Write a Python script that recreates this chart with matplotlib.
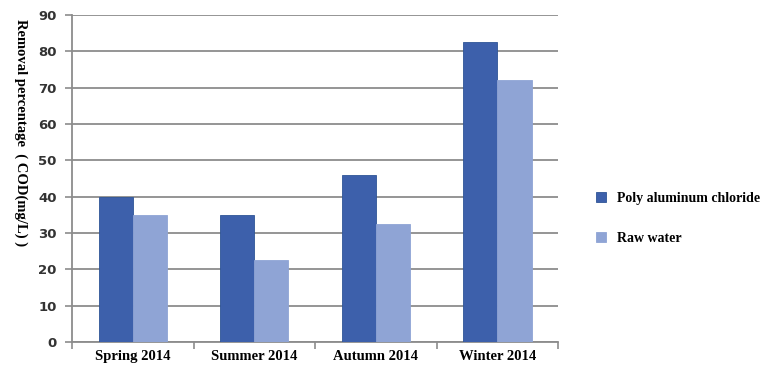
import matplotlib.pyplot as plt
import numpy as np

# data
seasons = ["Spring 2014", "Summer 2014", "Autumn 2014", "Winter 2014"]
pac = [40, 35, 46, 82.5]
raw_water = [35, 22.5, 32.5, 72]
yticks = [0, 10, 20, 30, 40, 50, 60, 70, 80, 90]

dark = "#3d60ab"
light = "#8fa4d5"
grid_col = "#8c8c8c"

fig = plt.figure(figsize=(7.83, 3.67), dpi=100)
ax = fig.add_axes([0.092, 0.068, 0.621, 0.891])

x = np.arange(len(seasons))
w = 0.28
ax.bar(x - w / 2, pac, w, color=dark, edgecolor="#2f5597", linewidth=0.6,
       label="Poly aluminum chloride", zorder=3)
ax.bar(x + w / 2, raw_water, w, color=light, edgecolor="#8fa4d5", linewidth=0.6,
       label="Raw water", zorder=3)

ax.set_xlim(-0.5, len(seasons) - 0.5)
ax.set_ylim(0, 90)
ax.set_yticks(yticks)
ax.set_yticklabels([str(v) for v in yticks], fontsize=9.5, fontweight="bold",
                   family="DejaVu Sans", color="#333333")
ax.yaxis.grid(True, color=grid_col, linewidth=1.3, zorder=0)

# category labels centred, tick marks at the category boundaries
ax.set_xticks(x)
ax.set_xticklabels(seasons, fontsize=10.5, fontweight="bold", family="Liberation Serif")
ax.tick_params(axis="x", length=0, pad=6)
ax.set_xticks(np.arange(len(seasons) + 1) - 0.5, minor=True)
ax.tick_params(axis="x", which="minor", length=5, color=grid_col, width=1.2)
ax.tick_params(axis="y", length=5, color=grid_col, width=1.2, pad=6)

for s in ["top", "right"]:
    ax.spines[s].set_visible(False)
for s in ["left", "bottom"]:
    ax.spines[s].set_color(grid_col)
    ax.spines[s].set_linewidth(1.3)

fig.text(0.026, 0.64, "Removal percentage  ( COD(mg/L) )", rotation=270,
         ha="center", va="center", fontsize=10.5, fontweight="bold",
         family="Liberation Serif")

fig.legend(loc="center left", bbox_to_anchor=(0.745, 0.405), frameon=False,
           prop={"family": "Liberation Serif", "weight": "bold", "size": 10},
           handlelength=0.7, handleheight=0.7, handletextpad=0.8,
           labelspacing=1.9)

fig.savefig("out.png", dpi=100)
